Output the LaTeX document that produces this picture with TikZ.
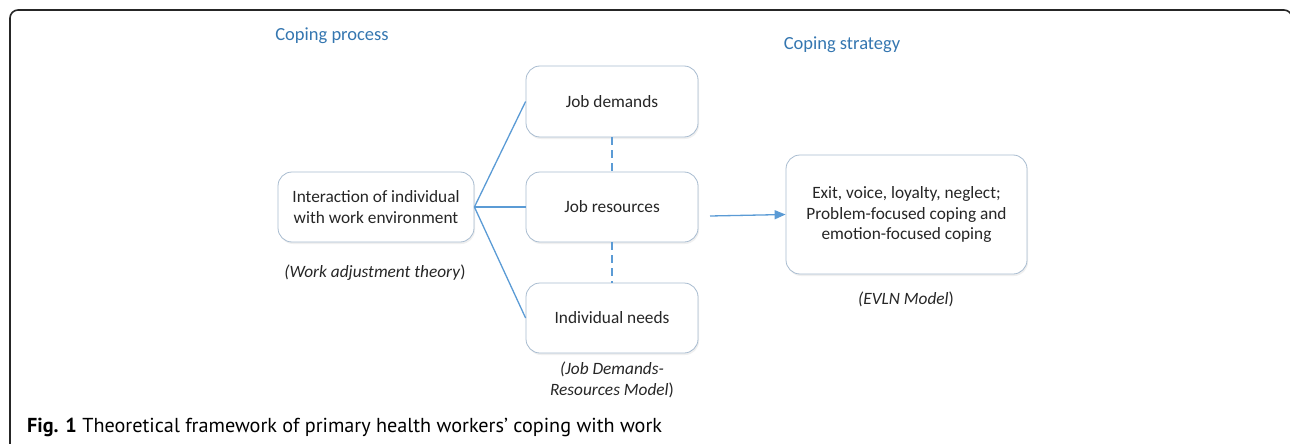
\documentclass[tikz,border=0pt]{standalone}
\usepackage{fontspec}
\setmainfont{Carlito}
\newfontfamily\capfont{PT Sans}
\usetikzlibrary{arrows.meta,shadows}
\definecolor{linkblue}{RGB}{91,155,213}
\definecolor{headblue}{RGB}{52,118,176}
\definecolor{boxrim}{RGB}{168,188,208}
\definecolor{inktext}{RGB}{38,38,38}
\tikzset{
  stagebox/.style={draw=boxrim, line width=0.8pt, rounded corners=14pt, fill=white,
    align=center, text=inktext, inner sep=0pt, font=\fontsize{17.3}{20.5}\selectfont,
    drop shadow={opacity=0.12, shadow xshift=1pt, shadow yshift=-2pt}},
  link/.style={draw=linkblue, line width=1.3pt},
  dashlink/.style={link, dash pattern=on 8pt off 5pt},
  heading/.style={text=headblue, font=\fontsize{18.5}{22}\selectfont},
  modelnote/.style={align=center, text=inktext, font=\fontsize{17.3}{20.5}\selectfont\itshape}
}
\begin{document}
\begin{tikzpicture}[x=1pt,y=-1pt]
    \useasboundingbox (0,0) rectangle (1290,444);
    % frame round the figure
    \draw[line width=1.6pt, black!85, rounded corners=8pt] (10,446) -- (10,10) -- (1292,10) -- (1292,446);
    \node[heading] (hproc) at (332,36) {Coping process};
    \node[heading] (hstrat) at (842,45) {Coping strategy};
    % boxes
    \node[stagebox, minimum width=196pt, minimum height=70pt] (inter) at (376,207) {Interaction of individual\\with work environment};
    \node[stagebox, minimum width=172pt, minimum height=71pt] (jd) at (612,101.5) {Job demands};
    \node[stagebox, minimum width=172pt, minimum height=70pt] (jr) at (612,207) {Job resources};
    \node[stagebox, minimum width=172pt, minimum height=70pt] (need) at (612,318) {Individual needs};
    \node[stagebox, minimum width=241pt, minimum height=119pt] (evln) at (906.5,214.5) {Exit, voice, loyalty, neglect;\\Problem-focused coping and\\emotion-focused coping};
    % model names
    \node[modelnote] (wat) at (375,273) {(\textit{Work adjustment theory}\/\upshape)};
    \node[modelnote] (jdr) at (612,380) {(\textit{Job Demands-}\\\textit{Resources Model}\/\upshape)};
    \node[modelnote] (evm) at (906,299) {(\textit{EVLN Model}\/\upshape)};
    % connectors
    \draw[link] (inter.east) -- (jd.west);
    \draw[link] (inter.east) -- (jr.west);
    \draw[link] (inter.east) -- (need.west);
    \draw[dashlink] (jd.south) -- (jr.north);
    \draw[dashlink] (jr.south) -- (need.north);
    \coordinate (astart) at (710,216);
    \draw[link, -{Triangle[length=11pt,width=9pt]}] (astart) -- (evln.west);
    % caption
    \node[anchor=west, inner sep=0pt, font=\capfont\fontsize{20.2}{23}\selectfont] (cap) at (27,427) {\textbf{Fig. 1} Theoretical framework of primary health workers’ coping with work};
\end{tikzpicture}
\end{document}
